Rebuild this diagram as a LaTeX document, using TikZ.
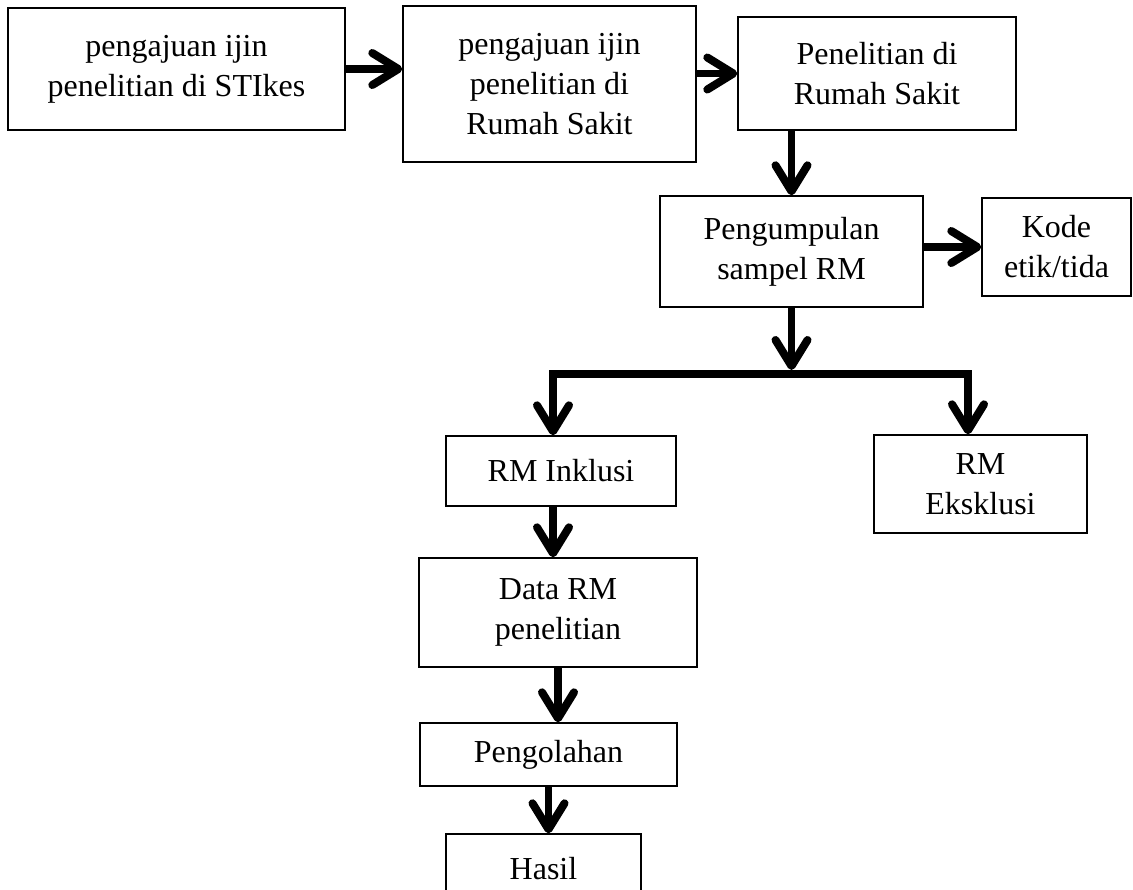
\documentclass[tikz,border=0pt]{standalone}
\usepackage{fontspec}
\setmainfont{Liberation Serif}
\usepackage{tikz}
\usetikzlibrary{arrows.meta}

\begin{document}
\begin{tikzpicture}[x=0.5pt,y=-0.5pt,
    box/.style={draw,line width=0.7pt,inner sep=0pt,align=center,
                font=\fontsize{16}{20}\selectfont},
    chev/.tip={Straight Barb[length=13pt,width=16pt,line width=4pt,round]},
    arr/.style={line width=3.8pt,-chev}]
            % page size, the last box runs off the bottom
            \clip (0,0) rectangle (1133,889);

            % Top row
            \node[box,minimum width=168.5pt,minimum height=61pt] (stikes) at (176.5,69)
                {pengajuan ijin\\penelitian di STIkes};
            \node[box,minimum width=146.5pt,minimum height=78pt] (ijinrs) at (549.5,84)
                {pengajuan ijin\\penelitian di\\Rumah Sakit};
            \node[box,minimum width=139pt,minimum height=56.5pt] (penelitian) at (877,73.5)
                {Penelitian di\\Rumah Sakit};

            % Collecting the samples
            \node[box,minimum width=131.5pt,minimum height=55.5pt] (sampel) at (791.5,251.5)
                {Pengumpulan\\sampel RM};
            \node[box,minimum width=74.5pt,minimum height=49pt] (kode) at (1056.5,247)
                {Kode\\etik/tida};

            % Inclusion / exclusion
            \node[box,minimum width=115pt,minimum height=35pt] (inklusi) at (561,471)
                {RM Inklusi};
            \node[box,minimum width=106.5pt,minimum height=49pt] (eksklusi) at (980.5,484)
                {RM\\Eksklusi};

            % Left column down to the result
            \node[box,minimum width=139pt,minimum height=54.5pt] (data) at (558,612.5)
                {Data RM\\penelitian};
            \node[box,minimum width=128.5pt,minimum height=31.5pt] (olah) at (548.5,754.5)
                {Pengolahan};
            \node[box,minimum width=97.5pt,minimum height=35pt] (hasil) at (543.5,869)
                {Hasil};

            % Split points
            \coordinate (hub) at (791.5,370);
            \coordinate (splitL) at (553,374);
            \coordinate (splitR) at (968,374);

            % Arrows along the top
            \draw[arr] (stikes.east) -- (ijinrs.west |- stikes.east);
            \draw[arr] (ijinrs.east |- penelitian.west) -- (penelitian.west);
            \draw[arr] (sampel.north |- penelitian.south) -- (sampel.north);
            \draw[arr] (sampel.east |- kode.west) -- (kode.west);

            % Branching arrows
            \draw[arr] (sampel.south) -- (hub);
            \draw[arr,chev-chev]
                (splitL |- inklusi.north) -- (splitL) -- (splitR) -- (splitR |- eksklusi.north);

            % Arrows down the left column
            \draw[arr] (splitL |- inklusi.south) -- (splitL |- data.north);
            \draw[arr] (data.south) -- (data.south |- olah.north);
            \draw[arr] (olah.south) -- (olah.south |- hasil.north);
\end{tikzpicture}
\end{document}
